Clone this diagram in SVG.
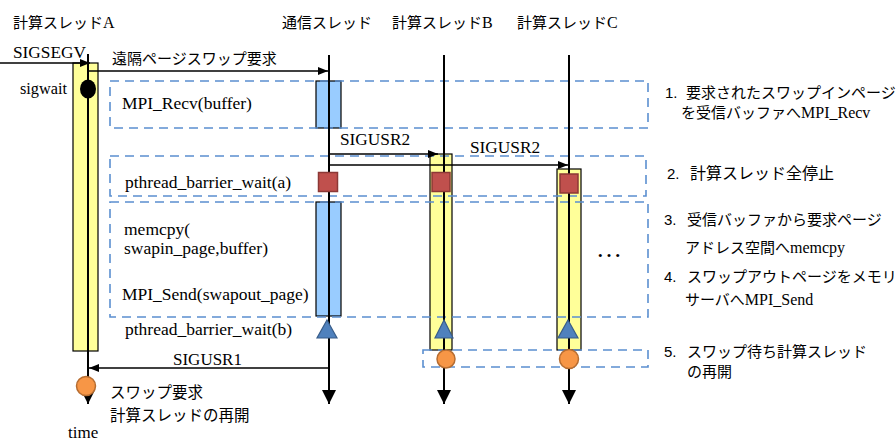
<svg xmlns="http://www.w3.org/2000/svg" width="896" height="441" viewBox="0 0 896 441">
<defs>
<style>
.jp{font-family:"Noto Sans CJK JP","Noto Sans",sans-serif;font-size:15px;fill:#000}
.sr{font-family:"Liberation Serif","Noto Sans CJK JP",serif;font-size:17.5px;fill:#000}
.ss{font-family:"Liberation Sans","Noto Sans CJK JP",sans-serif;font-size:15px;fill:#000}
.life{stroke:#000;stroke-width:2;fill:none}
.msg{stroke:#000;stroke-width:1.5;fill:none;marker-end:url(#ah)}
.dash{fill:none;stroke:#5B8FD0;stroke-width:1.6;stroke-dasharray:9 6}
.yel{fill:#FFFF99;stroke:#000;stroke-width:1.2}
.blu{fill:#99CCFF;stroke:#000;stroke-width:1.2}
.red{fill:#C0504D;stroke:#8C3836;stroke-width:1.5}
.tri{fill:#4F81BD;stroke:#385D8A;stroke-width:1.2}
.org{fill:#F79646;stroke:#B66D31;stroke-width:1.5}
</style>
<marker id="ah" viewBox="0 0 10 10" refX="10" refY="5" markerWidth="10" markerHeight="10" markerUnits="userSpaceOnUse" orient="auto">
<path d="M0,1 L10,5 L0,9 Z" fill="#000"/>
</marker>
<marker id="big" viewBox="0 0 14 14" refX="14" refY="7" markerWidth="14" markerHeight="14" markerUnits="userSpaceOnUse" orient="auto">
<path d="M0,0 L14,7 L0,14 Z" fill="#000"/>
</marker>
</defs>
<rect width="896" height="441" fill="#fff"/>

<!-- headers -->
<g id="head-A"><text class="jp" x="13" y="28">計算スレッド<tspan class="sr" style="font-size:16px">A</tspan></text></g>
<g id="head-comm"><text class="jp" x="282" y="28">通信スレッド</text></g>
<g id="head-B"><text class="jp" x="392" y="28">計算スレッド<tspan class="sr" style="font-size:16px">B</tspan></text></g>
<g id="head-C"><text class="jp" x="517" y="28">計算スレッド<tspan class="sr" style="font-size:16px">C</tspan></text></g>

<!-- activation boxes -->
<g id="act-A"><rect class="yel" x="73" y="63" width="25" height="288"/></g>
<g id="act-comm1"><rect class="blu" x="316" y="81" width="25" height="47"/></g>
<g id="act-comm2"><rect class="blu" x="316" y="202" width="25" height="114"/></g>
<g id="act-B"><rect class="yel" x="430" y="154" width="22" height="196"/></g>
<g id="act-C"><rect class="yel" x="557" y="169" width="24" height="181"/></g>

<!-- dashed phase boxes -->
<g id="phase1"><rect class="dash" x="110" y="81" width="538" height="47"/></g>
<g id="phase2"><rect class="dash" x="110" y="156" width="536" height="40"/></g>
<g id="phase3"><rect class="dash" x="110" y="202" width="538" height="115"/></g>
<g id="phase5"><rect class="dash" x="423" y="350" width="225" height="17"/></g>

<!-- connectors -->
<g id="connectors">
<line class="life" x1="88" y1="54" x2="88" y2="404" marker-end="url(#big)"/>
<line class="life" x1="329" y1="55" x2="329" y2="404" marker-end="url(#big)"/>
<line class="life" x1="444" y1="55" x2="444" y2="404" marker-end="url(#big)"/>
<line class="life" x1="569" y1="55" x2="569" y2="404" marker-end="url(#big)"/>
<line class="msg" x1="0" y1="63" x2="90" y2="63"/>
<line class="msg" x1="88" y1="71" x2="328" y2="71"/>
<line class="msg" x1="329" y1="154" x2="438" y2="154"/>
<line class="msg" x1="329" y1="165" x2="568" y2="165"/>
<line class="msg" x1="329" y1="368" x2="89" y2="368"/>
</g>

<!-- event markers -->
<g id="sigwait-mark"><ellipse cx="88" cy="89" rx="8" ry="9.5" fill="#000"/></g>
<g id="barrier-a-comm"><rect class="red" x="318.5" y="172.5" width="19" height="19"/></g>
<g id="barrier-a-B"><rect class="red" x="432" y="172.5" width="18" height="19"/></g>
<g id="barrier-a-C"><rect class="red" x="560" y="174" width="18" height="19"/></g>
<g id="barrier-b-comm"><path class="tri" d="M327,320 L337,338 L317,338 Z"/></g>
<g id="barrier-b-B"><path class="tri" d="M444,320 L453,338 L435,338 Z"/></g>
<g id="barrier-b-C"><path class="tri" d="M568,320 L578,338 L558,338 Z"/></g>
<g id="resume-A"><circle class="org" cx="86" cy="386" r="9.5"/></g>
<g id="resume-B"><circle class="org" cx="446" cy="359" r="9"/></g>
<g id="resume-C"><circle class="org" cx="569" cy="359" r="9.5"/></g>

<!-- labels -->
<g id="labels">
<text class="sr" x="13" y="58" style="font-size:17.3px">SIGSEGV</text>
<text class="jp" x="112" y="64">遠隔ページスワップ要求</text>
<text class="sr" x="20" y="94" style="font-size:16.3px">sigwait</text>
<text class="sr" x="122" y="109">MPI_Recv(buffer)</text>
<text class="sr" x="340" y="145" style="font-size:17.3px">SIGUSR2</text>
<text class="sr" x="470" y="153" style="font-size:17.3px">SIGUSR2</text>
<text class="sr" x="125" y="188">pthread_barrier_wait(a)</text>
<text class="sr" x="124" y="235">memcpy(</text>
<text class="sr" x="124" y="254">swapin_page,buffer)</text>
<text class="sr" x="122" y="300">MPI_Send(swapout_page)</text>
<text class="sr" x="125" y="335">pthread_barrier_wait(b)</text>
<text class="sr" x="173" y="365" style="font-size:17px">SIGUSR1</text>
<text class="jp" x="110" y="398" style="font-size:15.5px">スワップ要求</text>
<text class="jp" x="110" y="421" style="font-size:15.5px">計算スレッドの再開</text>
<text class="sr" x="68" y="438" style="font-size:17px">time</text>
<text class="sr" x="596" y="257" style="font-size:26px">…</text>
</g>

<!-- explanations -->
<g id="note1">
<text class="ss" x="665" y="98">1.</text><text class="jp" x="686" y="98">要求されたスワップインページ</text>
<text class="jp" x="681" y="118">を受信バッファへ<tspan class="sr" style="font-size:16px">MPI_Recv</tspan></text>
</g>
<g id="note2">
<text class="ss" x="667" y="179">2.</text><text class="jp" x="690" y="179" style="font-size:16px">計算スレッド全停止</text>
</g>
<g id="note3">
<text class="ss" x="664" y="225">3.</text><text class="jp" x="687" y="225">受信バッファから要求ページ</text>
<text class="jp" x="685" y="253">アドレス空間へ<tspan class="sr" style="font-size:16px">memcpy</tspan></text>
</g>
<g id="note4">
<text class="ss" x="664" y="282">4.</text><text class="jp" x="687" y="282">スワップアウトページをメモリ</text>
<text class="jp" x="685" y="305">サーバへ<tspan class="sr" style="font-size:16px">MPI_Send</tspan></text>
</g>
<g id="note5">
<text class="ss" x="664" y="357">5.</text><text class="jp" x="687" y="357">スワップ待ち計算スレッド</text>
<text class="jp" x="687" y="377">の再開</text>
</g>
</svg>
